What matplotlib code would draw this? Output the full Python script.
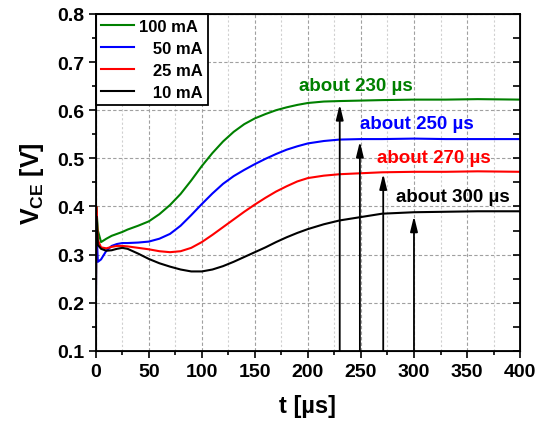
import numpy as np
import matplotlib
matplotlib.use("Agg")
import matplotlib.pyplot as plt
from matplotlib.ticker import MultipleLocator

plt.rcParams['font.family'] = ['Liberation Sans', 'DejaVu Sans']
plt.rcParams['font.weight'] = 'bold'
plt.rcParams['mathtext.fontset'] = 'custom'
plt.rcParams['mathtext.bf'] = 'Liberation Sans:bold'
plt.rcParams['mathtext.rm'] = 'Liberation Sans:bold'

# время, мкс
t = [0, 0.5, 2, 5, 10, 15, 20, 25, 30, 40, 50, 60, 70, 80, 90, 100, 110, 120,
     130, 140, 150, 160, 170, 180, 190, 200, 215, 230, 250, 270, 300, 330, 360, 400]

v_100 = [0.10, 0.40, 0.35, 0.326, 0.333, 0.339, 0.343, 0.347, 0.352, 0.360, 0.369,
         0.384, 0.403, 0.426, 0.454, 0.484, 0.511, 0.535, 0.555, 0.571, 0.583, 0.592,
         0.600, 0.606, 0.611, 0.615, 0.618, 0.619, 0.620, 0.621, 0.622, 0.622, 0.623, 0.622]
v_50 = [0.10, 0.36, 0.285, 0.290, 0.308, 0.318, 0.322, 0.324, 0.324, 0.325, 0.327,
        0.333, 0.343, 0.360, 0.382, 0.405, 0.427, 0.447, 0.463, 0.476, 0.488, 0.499,
        0.509, 0.518, 0.525, 0.531, 0.536, 0.539, 0.540, 0.540, 0.541, 0.540, 0.540, 0.540]
v_25 = [0.10, 0.40, 0.33, 0.315, 0.313, 0.316, 0.318, 0.318, 0.317, 0.314, 0.311,
        0.307, 0.305, 0.307, 0.314, 0.326, 0.341, 0.357, 0.373, 0.389, 0.404, 0.418,
        0.431, 0.442, 0.452, 0.459, 0.464, 0.467, 0.469, 0.471, 0.472, 0.472, 0.473, 0.472]
v_10 = [0.10, 0.38, 0.32, 0.312, 0.308, 0.309, 0.312, 0.314, 0.312, 0.302, 0.291,
        0.282, 0.275, 0.269, 0.265, 0.265, 0.269, 0.276, 0.285, 0.295, 0.305, 0.315,
        0.326, 0.336, 0.345, 0.353, 0.363, 0.371, 0.378, 0.385, 0.388, 0.389, 0.390, 0.390]

series = [
    (v_100, '100 mA', '#008000'),
    (v_50, '\u2007 50 mA', '#0000ff'),
    (v_25, '\u2007 25 mA', '#ff0000'),
    (v_10, '\u2007 10 mA', '#000000'),
]

# стрелки: время установления и уровень
arrow_t = [230, 249, 271, 300]
arrow_v = [0.612, 0.535, 0.468, 0.38]
notes = ['about 230 µs', 'about 250 µs', 'about 270 µs', 'about 300 µs']
note_t = [245, 303, 319, 337]
note_v = [0.652, 0.572, 0.502, 0.420]
note_colors = ['#008000', '#0000ff', '#ff0000', '#000000']

fig = plt.figure(figsize=(5.44, 4.27), dpi=100)
ax = fig.add_axes([0.176, 0.176, 0.78, 0.789])

for v, lab, c in series:
    ax.plot(t, v, color=c, lw=1.5, label=lab)

for x, y in zip(arrow_t, arrow_v):
    ax.annotate('', xy=(x, y), xytext=(x, 0.1),
                arrowprops=dict(arrowstyle='-|>,head_width=0.22,head_length=0.9',
                                color='k', lw=1.3, mutation_scale=10,
                                shrinkA=0, shrinkB=0))

for s, x, y, c in zip(notes, note_t, note_v, note_colors):
    ax.text(x, y, s, color=c, fontsize=13.5, fontweight='bold',
            ha='center', va='center')

ax.set_xlim(0, 400)
ax.set_ylim(0.1, 0.8)
ax.xaxis.set_major_locator(MultipleLocator(50))
ax.xaxis.set_minor_locator(MultipleLocator(25))
ax.yaxis.set_minor_locator(MultipleLocator(0.05))
ax.set_yticks(np.arange(0.1, 0.81, 0.1))
ax.set_yticklabels(['0.1', '0.2', '0.3', '0.4', '0.5', '0.6', '0.7', '0.8'])

ax.grid(True, which='major', ls=(0, (3, 2)), color='#a0a0a0', lw=0.8)
ax.grid(True, which='minor', axis='x', ls=(0, (2, 2)), color='#d0d0d0', lw=0.8)
ax.set_axisbelow(True)

ax.tick_params(which='both', left=True, bottom=True, right=False, top=False,
               labelsize=14, width=1.2)
ax.tick_params(which='major', length=5)
ax.tick_params(which='minor', length=3)
for sp in ax.spines.values():
    sp.set_linewidth(1.3)

# правые риски внутрь
ax2 = ax.twinx()
ax2.set_ylim(0.1, 0.8)
ax2.yaxis.set_major_locator(MultipleLocator(0.05))
ax2.tick_params(axis='y', direction='in', length=5, width=1.2, labelright=False)

ax.set_xlabel('t [µs]', fontsize=17, fontweight='bold', labelpad=10)
ax.set_ylabel(r'$\mathbf{V_{CE}}$ [V]', fontsize=18, fontweight='bold', labelpad=8)

leg = ax.legend(loc='upper left', borderaxespad=0, fontsize=12, fancybox=False,
                edgecolor='k', framealpha=1, handlelength=2.0, labelspacing=0.42,
                borderpad=0.3, handletextpad=0.3)
leg.get_frame().set_linewidth(1.3)
for txt in leg.get_texts():
    txt.set_fontweight('bold')

fig.savefig('out.png', dpi=100)
